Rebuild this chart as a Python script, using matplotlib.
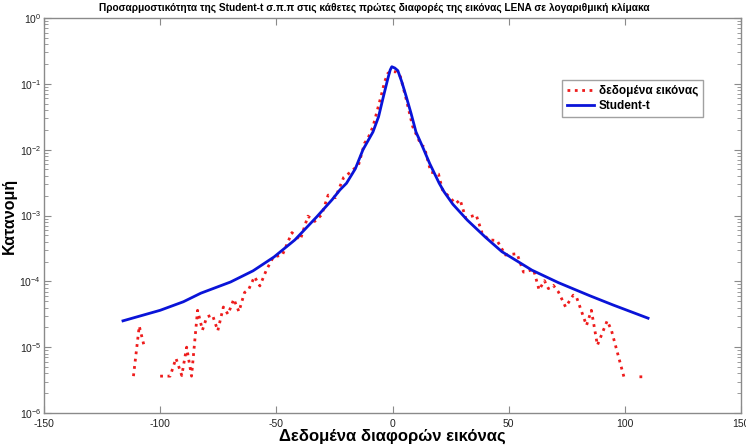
import numpy as np
import matplotlib
matplotlib.use("Agg")
import matplotlib.pyplot as plt
from matplotlib.ticker import LogLocator, NullFormatter

plt.rcParams['font.family'] = ['Liberation Sans', 'DejaVu Sans']
plt.rcParams['axes.unicode_minus'] = False

title = "Προσαρμοστικότητα της Student-t σ.π.π στις κάθετες πρώτες διαφορές της εικόνας LENA σε λογαριθμική κλίμακα"
xlabel = "Δεδομένα διαφορών εικόνας"
ylabel = "Κατανομή"
legend_labels = ["δεδομένα εικόνας", "Student-t"]

# Image data (red dotted): x positions and log10 of density (nan = empty bin)
img_x = [-116, -113.7, -111.5, -109, -107, -104.7, -102.4, -100, -95.7, -93.2, -90.7, -88.6,
         -86.5, -83.9, -81.8, -79.9, -77.5, -75.2, -72.8, -70.8, -68.3, -66.1, -63.7, -62,
         -59.4, -57.1, -54.3, -51.3, -47.4, -43.3, -39.7, -36.4, -33.5, -30.5, -27.7, -24.6,
         -21, -18.4, -14.6, -12, -10.6, -8.4, -6.3, -4.8, -3.4, -2, -0.6, 1.6, 3.4, 5.8,
         8.7, 12.3, 13.7, 16.5, 19.8, 21.5, 27.2, 29.1, 31.5, 36, 38.6, 41.5, 45, 48.6,
         53.6, 56.4, 60.7, 63.1, 65.4, 67.1, 69.2, 71.4, 74.5, 77.8, 79.2, 83.5, 85.6,
         88.2, 92.4, 94.2, 99.6, 101.9, 104.1, 106.3, 108.5]
img_log10 = [-4.98, np.nan, -5.44, -4.68, -4.97, np.nan, np.nan, -5.44, -5.44, -5.17, -5.43, -5.0,
             -5.44, -4.44, -4.74, -4.54, -4.51, -4.75, -4.39, -4.50, -4.27, -4.46, -4.17, -4.13,
             -3.93, -4.07, -3.83, -3.63, -3.60, -3.26, -3.37, -3.01, -3.09, -2.99, -2.69, -2.73,
             -2.42, -2.35, -2.23, -1.90, -1.83, -1.65, -1.37, -1.17, -0.97, -0.84, -0.81, -0.82, -0.89, -1.22,
             -1.65, -1.93, -1.96, -2.34, -2.37, -2.61, -2.82, -2.76, -3.04, -2.99, -3.27, -3.37, -3.38, -3.60,
             -3.58, -3.86, -3.82, -4.13, -3.99, -4.11, -4.06, -4.16, -4.39, -4.21, -4.24, -4.67, -4.44,
             -4.97, -4.60, -4.74, -5.45, np.nan, np.nan, -5.45, -5.45]

# Student-t fit (blue): x positions and log10 of density
t_x = [-116, -100, -90, -82.5, -69.7, -60, -51, -42, -32.6, -26, -22.6, -19.8, -16, -12.7,
       -8.4, -6, -4.1, -2, -1, -0.3, 1, 2.3, 4, 5.8, 8, 10.1, 13, 16, 20.1, 22.2, 26, 32.2,
       40, 47.1, 60, 71.4, 85, 95, 110]
t_log10 = [-4.60, -4.44, -4.31, -4.18, -4.01, -3.84, -3.63, -3.37, -3.02, -2.76, -2.61, -2.51, -2.29, -2.0,
           -1.73, -1.50, -1.22, -0.92, -0.79, -0.74, -0.76, -0.80, -0.97, -1.18, -1.45, -1.73, -1.96, -2.21,
           -2.51, -2.64, -2.83, -3.07, -3.33, -3.55, -3.83, -4.02, -4.22, -4.36, -4.56]

img_y = np.power(10.0, np.array(img_log10))
t_y = np.power(10.0, np.array(t_log10))

fig = plt.figure(figsize=(7.46, 4.46), dpi=100)
ax = fig.add_axes([44/746, 33/446, 697/746, 395/446])

ax.plot(img_x, img_y, color='#ee1c1c', linestyle=':', linewidth=2.0, label=legend_labels[0])
ax.plot(t_x, t_y, color='#0a14d8', linestyle='-', linewidth=2.0, label=legend_labels[1])

ax.set_yscale('log')
ax.set_xlim(-150, 150)
ax.set_ylim(1e-6, 1)
ax.set_xticks([-150, -100, -50, 0, 50, 100, 150])
ax.yaxis.set_major_locator(LogLocator(base=10, numticks=10))
ax.yaxis.set_minor_locator(LogLocator(base=10, subs=np.arange(2, 10), numticks=10))
ax.yaxis.set_minor_formatter(NullFormatter())

axcol = '#8a8a8a'
for s in ax.spines.values():
    s.set_color(axcol)
    s.set_linewidth(1.0)
ax.tick_params(axis='both', which='both', direction='in', top=True, right=True,
               color=axcol, labelsize=7.5, labelcolor='#222222')
ax.tick_params(axis='both', which='major', length=5)
ax.tick_params(axis='both', which='minor', length=3)
ax.tick_params(axis='x', pad=4)
ax.tick_params(axis='y', pad=2)

ax.set_title(title, fontsize=7.3, fontweight='bold', pad=5, x=0.474)
ax.set_xlabel(xlabel, fontsize=12, fontweight='bold', labelpad=0)
ax.set_ylabel(ylabel, fontsize=11.5, fontweight='bold', labelpad=2)

leg = ax.legend(loc='upper right', bbox_to_anchor=(0.9455, 0.843), fontsize=8.5,
                frameon=True, fancybox=False, edgecolor='#8a8a8a', handlelength=2.3,
                borderpad=0.4, labelspacing=0.3, handletextpad=0.4, borderaxespad=0)
for t in leg.get_texts():
    t.set_fontweight('bold')
leg.get_frame().set_linewidth(1.0)

fig.savefig('out.png', dpi=100)
